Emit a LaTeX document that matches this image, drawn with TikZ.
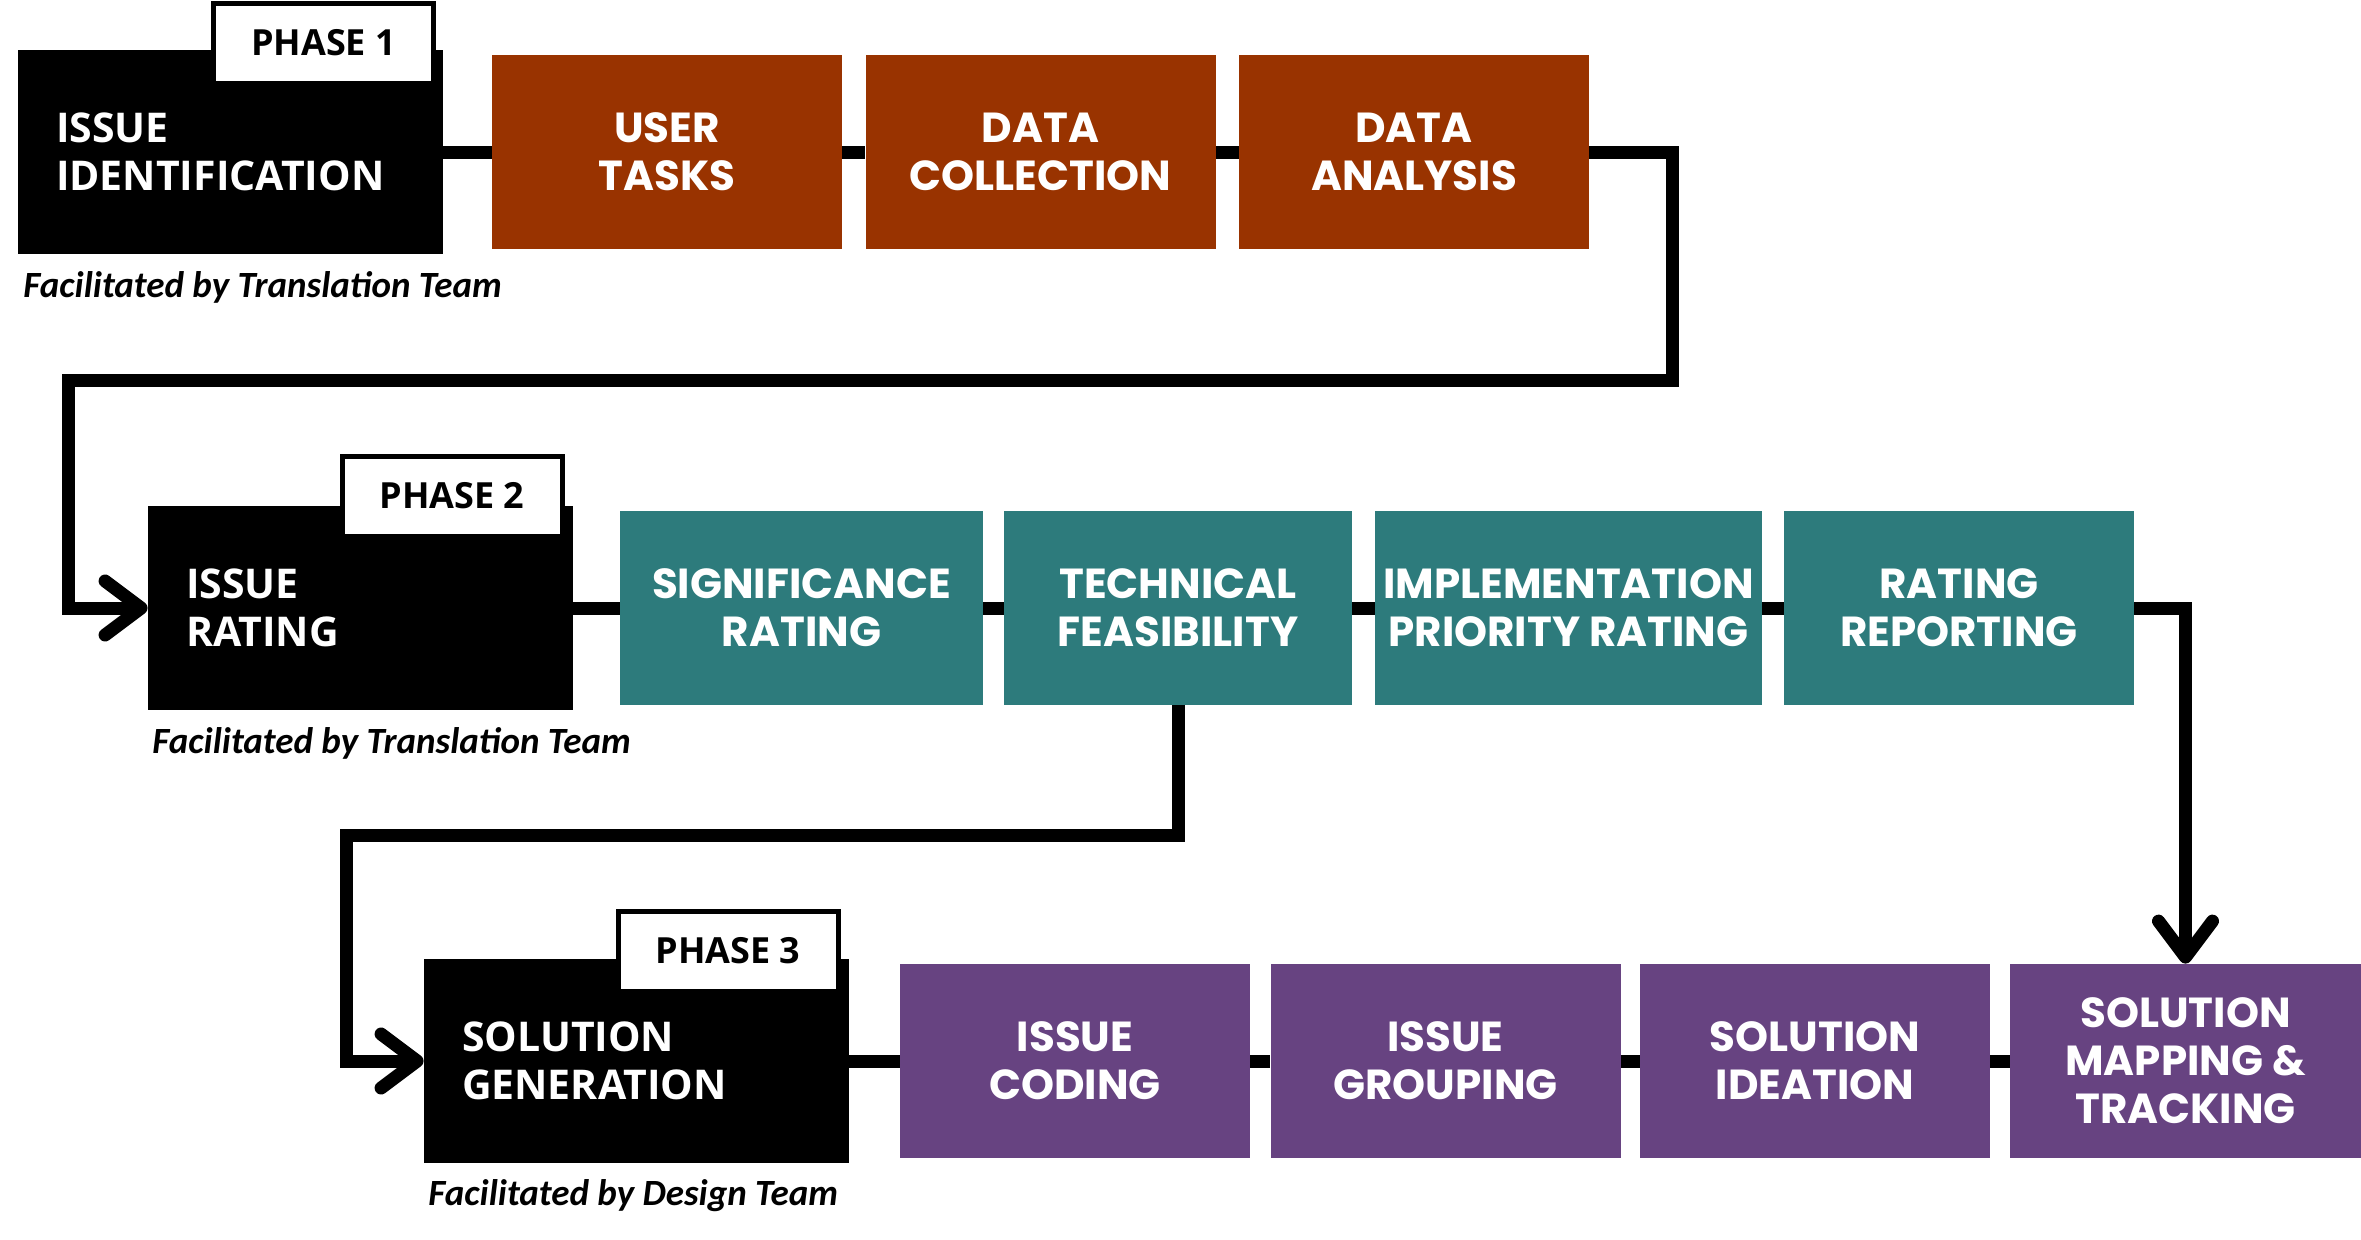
\documentclass[tikz,border=0pt]{standalone}
\usepackage{fontspec}
\usetikzlibrary{arrows.meta,backgrounds}
\newfontfamily\boxfont{Poppins}
\newfontfamily\blkfont{Open Sans}
\newfontfamily\facfont{Carlito}
\definecolor{cbrown}{HTML}{993300}
\definecolor{cteal}{HTML}{2D7B7C}
\definecolor{cpurple}{HTML}{674381}
\begin{document}
\begin{tikzpicture}[x=0.5pt,y=-0.5pt,
  stepbox/.style={fill=#1, text=white, minimum width=175pt, minimum height=97pt,
    inner sep=0pt, align=center, font=\boxfont\bfseries\fontsize{21pt}{24pt}\selectfont},
  blackbox/.style={fill=black, text=white, minimum width=212.5pt, minimum height=102pt,
    inner xsep=19pt, inner ysep=0pt, text width=174.5pt, align=left,
    font=\blkfont\bfseries\fontsize{20.5pt}{24pt}\selectfont},
  phasebox/.style={fill=white, draw=black, line width=2.5pt, minimum width=110pt,
    minimum height=40pt, inner sep=0pt, font=\blkfont\bfseries\fontsize{18pt}{20pt}\selectfont},
  facil/.style={anchor=base west, inner sep=0pt,
    font=\facfont\bfseries\itshape\fontsize{18.5pt}{20pt}\selectfont},
  conn/.style={line width=6.5pt},
  arr/.style={conn, -{Straight Barb[length=18pt,width=27pt,round]}}
]
% ---------- Row 1 ----------
\node[blackbox] (b1) at (230.5,152) {ISSUE\\IDENTIFICATION};
\node[phasebox] (p1) at (323.5,43) {PHASE 1};
\node[stepbox=cbrown] (ut) at (667,152) {USER\\TASKS};
\node[stepbox=cbrown] (dc) at (1040.5,152) {DATA\\COLLECTION};
\node[stepbox=cbrown] (da) at (1414,152) {DATA\\ANALYSIS};
\node[facil] (f1) at (23,297) {Facilitated by Translation Team};
% ---------- Row 2 ----------
\node[blackbox] (b2) at (360.5,608) {ISSUE\\RATING};
\node[phasebox] (p2) at (452,496) {PHASE 2};
\node[stepbox=cteal, minimum width=181.5pt] (sr) at (801.5,608) {SIGNIFICANCE\\RATING};
\node[stepbox=cteal, minimum width=174pt] (tf) at (1178,608) {TECHNICAL\\FEASIBILITY};
\node[stepbox=cteal, minimum width=193.5pt] (ip) at (1568.5,608) {IMPLEMENTATION\\PRIORITY RATING};
\node[stepbox=cteal] (rr) at (1959,608) {RATING\\REPORTING};
\node[facil] (f2) at (152,753) {Facilitated by Translation Team};
% ---------- Row 3 ----------
\node[blackbox] (b3) at (636.5,1061) {SOLUTION\\GENERATION};
\node[phasebox] (p3) at (728,951) {PHASE 3};
\node[stepbox=cpurple] (ic) at (1075,1061) {ISSUE\\CODING};
\node[stepbox=cpurple] (ig) at (1445.5,1061) {ISSUE\\GROUPING};
\node[stepbox=cpurple] (si) at (1815,1061) {SOLUTION\\IDEATION};
\node[stepbox=cpurple, minimum width=175.5pt] (sm) at (2185.5,1061) {SOLUTION\\MAPPING \&\\TRACKING};
\node[facil] (f3) at (428,1205) {Facilitated by Design Team};
% ---------- connectors ----------
\coordinate (k1) at (1672,380);
\coordinate (k2) at (68,380);
\coordinate (k4) at (346,835);
\begin{scope}[on background layer]
  \fill[white] (0,0) rectangle (2361,1239);
  \draw[conn] (b1.east) -- (ut.west);
  \draw[conn] (ut.east) -- (dc.west);
  \draw[conn] (dc.east) -- (da.west);
  \draw[arr] (da.east) -| (k1) -- (k2) |- (b2.west);
  \draw[conn] (b2.east) -- (sr.west);
  \draw[conn] (sr.east) -- (tf.west);
  \draw[conn] (tf.east) -- (ip.west);
  \draw[conn] (ip.east) -- (rr.west);
  \draw[arr] (rr.east) -| (sm.north);
  \draw[arr] (tf.south) |- (k4) |- (b3.west);
  \draw[conn] (b3.east) -- (ic.west);
  \draw[conn] (ic.east) -- (ig.west);
  \draw[conn] (ig.east) -- (si.west);
  \draw[conn] (si.east) -- (sm.west);
\end{scope}
\useasboundingbox (0,0) rectangle (2361,1239);
\end{tikzpicture}
\end{document}
